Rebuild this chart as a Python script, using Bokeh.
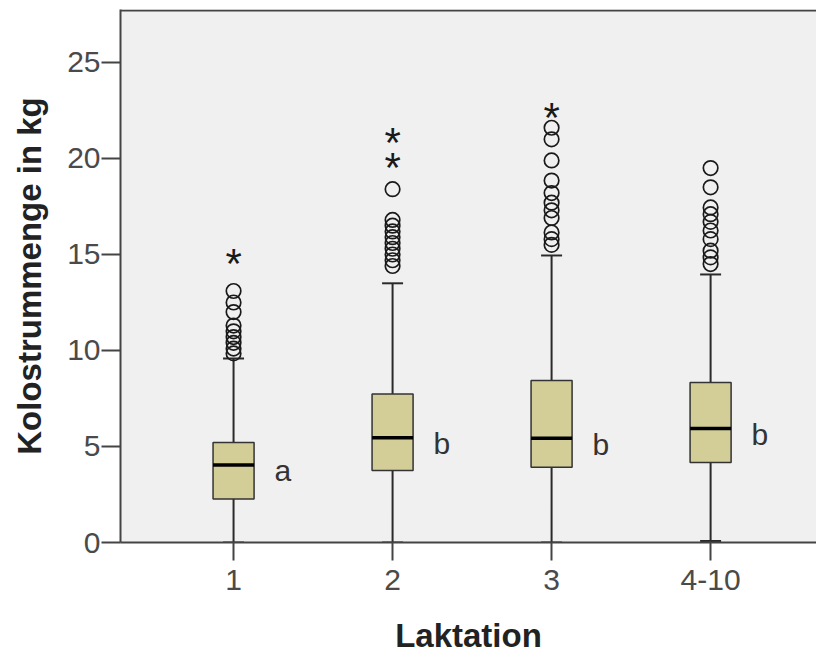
from bokeh.plotting import figure
from bokeh.models import Range1d, FixedTicker, Span
from bokeh.core.properties import value
from bokeh.embed import file_html
from bokeh.resources import INLINE

# ---------------- data ----------------
categories = ["1", "2", "3", "4-10"]
q1 = [2.26, 3.75, 3.92, 4.17]
medians = [4.03, 5.45, 5.43, 5.94]
q3 = [5.21, 7.74, 8.44, 8.33]
whisker_low = [0.0, 0.0, 0.0, 0.08]
whisker_high = [9.58, 13.5, 14.95, 13.96]
outliers_1 = [13.1, 12.5, 12.0, 11.3, 11.0, 10.7, 10.4, 10.1, 9.85]
outliers_2 = [18.4, 16.8, 16.5, 16.2, 15.9, 15.6, 15.3, 15.0, 14.7, 14.4]
outliers_3 = [21.6, 21.0, 19.9, 18.85, 18.2, 17.7, 17.3, 16.9, 16.15, 15.8, 15.5]
outliers_4 = [19.5, 18.5, 17.45, 17.1, 16.7, 16.25, 15.8, 15.2, 14.85, 14.5]
extremes_1 = [14.9]
extremes_2 = [21.2, 19.9]
extremes_3 = [22.5]
extremes_4 = []
letters = ["a", "b", "b", "b"]
y_ticks = [0, 5, 10, 15, 20, 25]

outliers = [outliers_1, outliers_2, outliers_3, outliers_4]
extremes = [extremes_1, extremes_2, extremes_3, extremes_4]
xs = list(range(1, len(categories) + 1))

# ---------------- figure ----------------
FONT = "Liberation Sans"
p = figure(width=816, height=657, output_backend="svg", toolbar_location=None,
           x_range=Range1d(0.289, 4.666), y_range=Range1d(0, 27.76),
           min_border_left=120, min_border_right=0, min_border_top=9,
           min_border_bottom=115)
p.background_fill_color = "#F0F0F0"
p.border_fill_color = "white"
p.outline_line_color = None
p.xgrid.visible = False
p.ygrid.visible = False

BOX_W = 0.258
CAP_W = 0.066
EDGE = "#2a2a2a"

# whiskers
p.segment(x0=xs, y0=q3, x1=xs, y1=whisker_high, line_color=EDGE, line_width=2)
p.segment(x0=xs, y0=q1, x1=xs, y1=whisker_low, line_color=EDGE, line_width=2)
p.segment(x0=[x - CAP_W for x in xs], y0=whisker_high, x1=[x + CAP_W for x in xs],
          y1=whisker_high, line_color=EDGE, line_width=2)
p.segment(x0=[x - CAP_W for x in xs], y0=whisker_low, x1=[x + CAP_W for x in xs],
          y1=whisker_low, line_color=EDGE, line_width=2)

# boxes
p.vbar(x=xs, width=BOX_W, bottom=q1, top=q3, fill_color="#D3CE97",
       line_color="#333333", line_width=1.5)
p.segment(x0=[x - BOX_W / 2 for x in xs], y0=medians, x1=[x + BOX_W / 2 for x in xs],
          y1=medians, line_color="black", line_width=3.5)

# outliers
ox, oy = [], []
for x, vals in zip(xs, outliers):
    ox += [x] * len(vals)
    oy += vals
p.scatter(ox, oy, marker="circle", size=14.5, fill_color=None, line_color="#1a1a1a",
          line_width=1.7)

ex, ey = [], []
for x, vals in zip(xs, extremes):
    ex += [x] * len(vals)
    ey += vals
p.text(x=ex, y=ey, text=["*"] * len(ex), text_font=value(FONT), text_font_size="42px",
       text_align="center", text_baseline="alphabetic", y_offset=7, text_color="#1a1a1a")

# significance letters
p.text(x=[x + 0.31 for x in xs], y=[m - 0.3 for m in medians], text=letters,
       text_font=value(FONT), text_font_size="30px", text_align="center",
       text_baseline="alphabetic", text_color="#333333")

# top frame line
p.add_layout(Span(location=27.71, dimension="width", line_color="#444444", line_width=2))

# axes
p.xaxis.ticker = FixedTicker(ticks=xs)
p.xaxis.major_label_overrides = {x: c for x, c in zip(xs, categories)}
p.yaxis.ticker = FixedTicker(ticks=y_ticks)
for ax in (p.xaxis, p.yaxis):
    ax.axis_line_color = "#444444"
    ax.axis_line_width = 2
    ax.major_tick_line_color = "#444444"
    ax.major_tick_line_width = 2
    ax.major_tick_in = 0
    ax.minor_tick_line_color = None
    ax.major_label_text_font = FONT
    ax.major_label_text_font_size = "30px"
    ax.major_label_text_color = "#4a4a4a"
    ax.axis_label_text_font = FONT
    ax.axis_label_text_font_style = "bold"
    ax.axis_label_text_font_size = "33px"
    ax.axis_label_text_color = "#222222"
p.xaxis.major_tick_out = 18
p.yaxis.major_tick_out = 19
p.xaxis.major_label_standoff = 9
p.yaxis.major_label_standoff = 1
p.xaxis.axis_label = "Laktation"
p.yaxis.axis_label = "Kolostrummenge in kg"
p.xaxis.axis_label_standoff = 24
p.yaxis.axis_label_standoff = 16

open("out.html", "w").write(file_html(p, INLINE))
